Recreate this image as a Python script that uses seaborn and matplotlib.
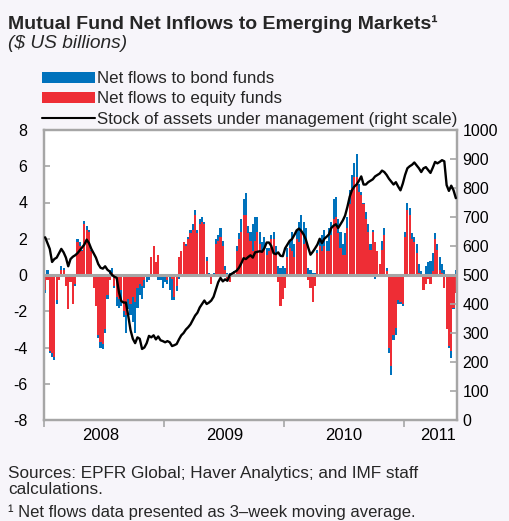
import numpy as np
import pandas as pd
import matplotlib
matplotlib.use("Agg")
import matplotlib.pyplot as plt
import seaborn as sns
from matplotlib.patches import Patch
from matplotlib.lines import Line2D

# ---------------- data (weekly, Jan 2008 - mid 2011) ----------------
equity_flows = [
    -0.8, -0.3, -4.2, -4.3, -4.5, -1.4, -0.3, 0.3, 0.3, -0.6,
    -1.9, -0.4, -1.6, -0.5, 1.8, 1.6, 1.3, 2.8, 2.5, 2.4,
    1.3, -0.7, -1.7, -3.3, -3.7, -3.8, -3.0, -1.1, -0.3, 0.1,
    -0.6, -1.2, -1.3, -0.8, -2.0, -2.2, -1.3, -1.6, -1.2, -1.5,
    -0.7, -0.5, -0.6, -0.3, 0.0, 0.0, 1.0, 1.6, 0.7, 1.1,
    0.0, 0.0, -0.1, -0.3, 0.0, -0.2, -1.2, -0.6, 1.0, 1.3,
    1.8, 1.6, 2.0, 2.3, 2.5, 3.3, 2.3, 2.8, 2.9, 2.8,
    0.8, 0.0, -0.5, 0.0, 1.7, 1.9, 2.1, 1.6, 0.3, -0.3,
    -0.4, 0.0, 0.1, 1.3, 2.0, 2.4, 3.3, 3.3, 2.3, 1.9,
    1.3, 1.9, 2.4, 1.7, 1.3, 1.5, 1.1, 1.3, 2.0, 2.0,
    1.2, -0.4, -1.7, -1.3, -0.7, 1.0, 1.5, 1.3, 1.0, 2.0,
    1.8, 2.5, 1.7, 2.0, -0.3, -0.7, -1.5, -0.6, 1.2, 1.6,
    1.3, 1.6, 1.3, 1.3, 2.2, 3.1, 3.2, 2.3, 1.5, 1.1,
    1.1, 2.6, 3.9, 4.8, 5.4, 5.4, 4.6, 4.4, 3.9, 3.1,
    2.4, 1.4, 2.4, 1.8, 1.3, 0.6, 1.4, 2.2, 0.2, -4.0,
    -5.0, -3.3, -2.9, -1.4, -1.5, -1.6, 2.1, 3.6, 3.3, 2.0,
    1.8, 1.2, 0.1, -0.1, -0.8, -0.5, -0.2, -0.5, 0.2, 2.0,
    1.4, 0.3, 0.1, -0.7, -3.0, -3.9, -4.2, -1.8, -1.0,
]
bond_flows = [
    -0.2, 0.3, -0.1, -0.2, -0.2, -0.2, 0.0, 0.2, 0.1, 0.0,
    0.0, 0.0, 0.0, -0.1, 0.2, 0.2, 0.1, 0.2, 0.2, 0.1,
    0.1, 0.0, 0.0, -0.2, -0.3, -0.3, -0.2, -0.2, 0.3, 0.3,
    -0.1, -0.5, -0.5, -0.9, -0.3, -1.0, -0.6, -0.6, -1.4, -1.7,
    -1.1, -0.6, -0.7, -0.4, -0.4, -0.3, 0.0, 0.0, -0.1, -0.3,
    -0.3, -0.7, -0.3, -0.2, -0.8, -1.2, -0.2, -0.3, -0.2, 0.0,
    0.0, 0.1, 0.1, 0.2, 0.3, 0.3, 0.2, 0.3, 0.3, 0.1,
    0.2, 0.1, 0.0, 0.1, 0.3, 0.3, 0.5, 0.3, 0.2, 0.1,
    0.1, 0.1, 0.1, 0.3, 0.3, 0.7, 0.9, 1.2, 0.4, 0.5,
    1.5, 1.3, 0.8, 0.7, 0.5, 0.6, 0.4, 0.2, 0.2, 0.4,
    0.4, 0.5, 0.4, 0.5, 0.4, 0.5, 0.4, 1.1, 0.7, 0.5,
    1.1, 0.8, 1.2, 0.6, 0.4, 0.3, 0.1, 0.1, 0.2, 0.4,
    0.9, 0.9, 0.6, 1.3, 0.7, 1.1, 1.1, 0.8, 0.9, 0.6,
    1.2, 0.6, 0.8, 0.7, 0.8, 1.3, 0.4, 0.2, 0.1, 0.4,
    0.4, 0.3, 0.1, -0.2, -0.1, 0.0, 0.5, 0.4, 0.2, -0.3,
    -0.5, -0.3, -0.4, -0.2, -0.1, -0.1, 0.3, 0.4, 0.4, 0.3,
    0.3, 0.5, 0.5, 0.2, 0.0, 0.5, 0.7, 0.8, 1.0, 0.3,
    0.3, 0.7, 0.5, 0.3, 0.0, -0.1, -0.4, -0.1, 0.3,
]
assets_stock = [
    630, 610, 590, 545, 555, 560, 575, 590, 578, 560,
    530, 555, 563, 568, 575, 585, 595, 605, 622, 610,
    590, 575, 560, 538, 525, 522, 530, 518, 512, 500,
    494, 490, 440, 410, 405, 405, 360, 310, 280, 265,
    285, 280, 245, 250, 265, 290, 285, 292, 278, 288,
    275, 272, 268, 272, 268, 255, 258, 262, 278, 292,
    300, 312, 320, 330, 345, 360, 370, 388, 400, 412,
    400, 405, 412, 425, 450, 475, 490, 478, 485, 480,
    500, 505, 510, 515, 525, 540, 558, 555, 562, 568,
    560, 578, 580, 582, 580, 592, 612, 612, 600, 575,
    572, 578, 566, 565, 592, 605, 618, 624, 638, 654,
    660, 652, 640, 622, 595, 570, 580, 592, 605, 625,
    610, 625, 632, 640, 662, 670, 675, 662, 675, 688,
    705, 735, 770, 793, 805, 812, 825, 840, 812, 812,
    820, 825, 830, 840, 845, 850, 860, 855, 845, 832,
    822, 812, 820, 805, 792, 815, 845, 868, 875, 880,
    888, 878, 868, 855, 868, 872, 862, 852, 870, 890,
    885, 890, 896, 892, 810, 790, 808, 792, 765,
]
year_labels = ["2008", "2009", "2010", "2011"]
left_ticks = [-8, -6, -4, -2, 0, 2, 4, 6, 8]
right_ticks = list(range(0, 1001, 100))

weeks = np.arange(len(equity_flows))
eq = np.array(equity_flows, dtype=float)
bd = np.array(bond_flows, dtype=float)
df = pd.DataFrame({"week": weeks, "assets": assets_stock})

# ---------------- style ----------------
sns.set_theme(style="white")
plt.rcParams["font.family"] = ["Liberation Sans", "DejaVu Sans"]

BLUE = "#0072BC"
RED = "#EE2D35"
GRAY = "#A6A6A6"
BG = "#F7F5FA"

W, H = 509, 521
fig = plt.figure(figsize=(W / 100, H / 100), dpi=100, facecolor=BG)
ax = fig.add_axes([44 / W, 1 - 420 / H, (457 - 44) / W, (420 - 130) / H])
ax.set_facecolor("white")

# stacked bars: equity nearest zero, bond stacked outward
ax.bar(weeks, eq, width=0.92, color=RED, linewidth=0, zorder=2)
bond_bottom = np.where(bd >= 0, np.maximum(eq, 0), np.minimum(eq, 0))
ax.bar(weeks, bd, bottom=bond_bottom, width=0.92, color=BLUE, linewidth=0, zorder=2)
ax.axhline(0, color=GRAY, lw=2.2, zorder=3)

ax.set_xlim(-0.5, len(weeks) - 0.5)
ax.set_ylim(-8, 8)
ax.set_yticks(left_ticks)
ax.set_yticklabels([str(t) for t in left_ticks])

# x axis: year boundary ticks, centred labels
ax.set_xticks([-0.5, 51.5, 103.5, 155.5])
ax.set_xticklabels([])
ax.set_xticks([24, 77.7, 129.5, 170.3], minor=True)
ax.set_xticklabels(year_labels, minor=True)
ax.tick_params(axis="x", which="major", direction="out", length=5, width=1.2,
               color=GRAY, bottom=True)
ax.tick_params(axis="x", which="minor", length=0, labelsize=12, pad=6,
               labelcolor="black")
ax.tick_params(axis="y", direction="in", length=4, width=1.2, color=GRAY,
               left=True, labelsize=11.5, pad=12, labelcolor="black")

for s in ax.spines.values():
    s.set_color(GRAY)
    s.set_linewidth(1.6)

ax2 = ax.twinx()
sns.lineplot(data=df, x="week", y="assets", ax=ax2, color="black", lw=1.7,
             zorder=5)
ax2.set_ylim(0, 1000)
ax2.set_xlim(-0.5, len(weeks) - 0.5)
ax2.set_yticks(right_ticks)
ax2.set_yticklabels([str(t) for t in right_ticks])
ax2.set_ylabel("")
ax2.set_xlabel("")
ax.set_xlabel("")
ax2.tick_params(axis="y", direction="in", length=5, width=1.2, color=GRAY,
                right=True, labelsize=11.5, pad=4, labelcolor="black")
for s in ax2.spines.values():
    s.set_color(GRAY)
    s.set_linewidth(1.6)

# ---------------- legend ----------------
handles = [
    Patch(facecolor=BLUE, edgecolor="none"),
    Patch(facecolor=RED, edgecolor="none"),
    Line2D([0], [0], color="black", lw=1.5),
]
labels = ["Net flows to bond funds", "Net flows to equity funds",
          "Stock of assets under management (right scale)"]
fig.legend(handles, labels, loc="upper left",
           bbox_to_anchor=(42 / W, 1 - 71 / H), frameon=False,
           fontsize=12.2, handlelength=3.1, handleheight=0.62,
           handletextpad=0.15, labelspacing=0.31, borderpad=0,
           borderaxespad=0)

# ---------------- titles & notes ----------------
fig.text(8 / W, 1 - 15 / H, "Mutual Fund Net Inflows to Emerging Markets\u00b9",
         fontsize=14, fontweight="bold", va="top", ha="left")
fig.text(8 / W, 1 - 35 / H, "($ US billions)", fontsize=13.8, style="italic",
         va="top", ha="left")

fig.text(8 / W, 1 - 466 / H,
         "Sources: EPFR Global; Haver Analytics; and IMF staff\ncalculations.",
         fontsize=12.3, va="top", ha="left", linespacing=1.12)
fig.text(8 / W, 1 - 504 / H,
         "\u00b9 Net flows data presented as 3\u2013week moving average.",
         fontsize=12, va="top", ha="left")

fig.savefig("out.png", dpi=100, facecolor=BG)
